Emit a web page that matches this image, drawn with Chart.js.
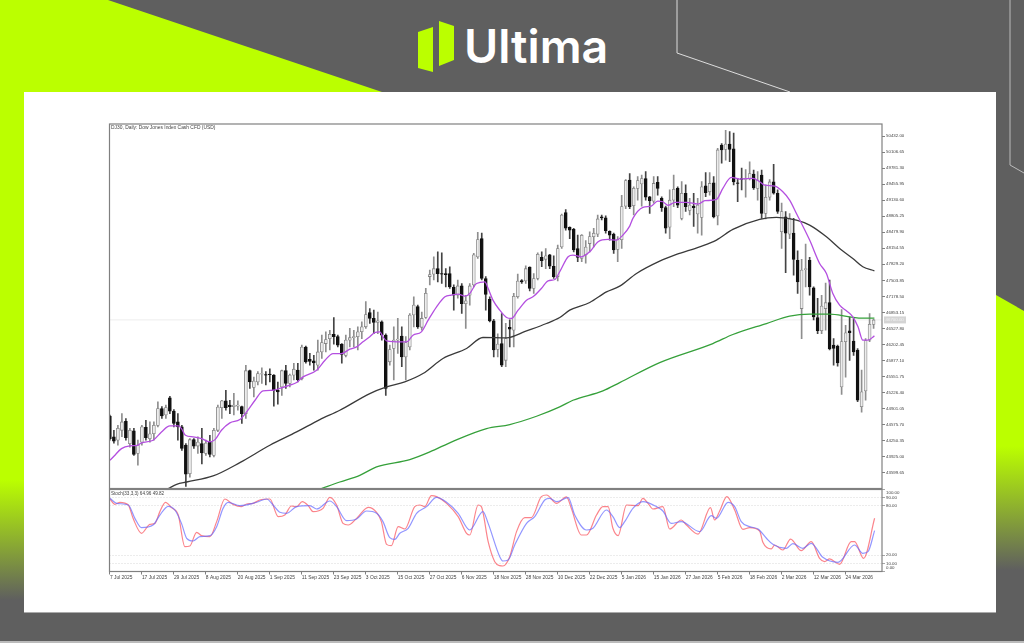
<!DOCTYPE html>
<html>
<head>
<meta charset="utf-8">
<title>DJ30 Daily</title>
<script src="https://cdn.jsdelivr.net/npm/chart.js@4"></script>
<style>
html,body{margin:0;padding:0;background:#5f5f5f;overflow:hidden}
#page{position:relative;width:1024px;height:643px;overflow:hidden;background:#5f5f5f}
#deco{position:absolute;left:0;top:0}
#card{position:absolute;left:24px;top:92px;width:972px;height:520px;background:#fff;border-bottom:1px solid #aaa}
canvas{position:absolute;left:0;top:0;filter:blur(.4px)}
#brand{position:absolute;left:464px;top:18px;font:600 46.5px Inter,"Open Sans",sans-serif;color:#fff}
.lbl{position:absolute;font:4.9px "Liberation Sans",sans-serif;color:#444;white-space:nowrap;filter:blur(.25px)}
</style>
</head>
<body>
<div id="page">
<svg id="deco" width="1024" height="643">
  <defs>
    <linearGradient id="leftFade" x1="0" y1="0" x2="0" y2="1">
      <stop offset="0" stop-color="#bbff00"/>
      <stop offset=".8" stop-color="#bbff00"/>
      <stop offset="1" stop-color="#5f5f5f"/>
    </linearGradient>
    <linearGradient id="rightFade" x1="0" y1="0" x2="0" y2="1">
      <stop offset="0" stop-color="#bbff00"/>
      <stop offset=".55" stop-color="#bbff00"/>
      <stop offset="1" stop-color="#5f5f5f"/>
    </linearGradient>
  </defs>
  <polygon points="0,0 108,0 382,92 24,92 24,600 0,600" fill="url(#leftFade)"/>
  <polygon points="996,295 1024,311 1024,570 996,570" fill="url(#rightFade)"/>
  <polyline points="677,0 677,53 790,92" fill="none" stroke="#ddd" stroke-width="1"/>
  <polyline points="1010,0 1010,165 1024,173" fill="none" stroke="#bbb" stroke-width="1"/>
  <rect x="0" y="641" width="1024" height="2" fill="#bbb"/>
  <polygon points="418,32 433,27 433,72 418,68" fill="#bbff00"/>
  <polygon points="439,21 454,26 454,60 439,66" fill="#bbff00"/>
</svg>
<div id="brand">Ultima</div>
<div id="card"></div>
<canvas id="precos" width="1024" height="643"></canvas>
<canvas id="stoch" width="1024" height="643"></canvas>
<div class="lbl" style="left:111px;top:125px">DJ30, Daily:  Dow Jones Index Cash CFD (USD)</div>
<div class="lbl" style="left:111px;top:491px;font-size:4.6px">Stoch(33,3,3) 64.96 49.82</div>
</div>
<script>
// Dados
const opens = [
44750,44330,44260,44460,44640,44190,44450,43990,44220,44520,
44290,44390,44560,44900,44770,45120,44850,44630,44530,44160,
43580,44270,44140,44190,43990,44220,43950,44460,44920,45060,
44970,44940,44950,44940,44800,45670,45330,45440,45600,45590,
45600,45580,45270,45340,45670,45410,45580,45680,45510,46150,
45900,45870,45780,46050,46220,46320,46410,46360,46210,45980,
46290,46340,46360,46460,46560,46850,46730,46650,46660,46390,
45850,46120,46290,46370,45950,46150,46800,46970,46550,46750,
47580,47630,47740,47640,47640,47640,47360,47200,47390,47030,
47200,47410,47980,48350,47540,47120,46680,46100,46220,45880,
46550,46490,47170,47500,47490,47770,47340,47540,47970,47930,
48020,47790,47580,48180,48880,48580,48540,48150,47950,48020,
48250,48390,48440,48790,48770,48500,48440,48130,48330,49010,
49540,49020,49370,49460,49570,49200,49110,49490,49170,48980,
48580,49130,49370,48760,49270,48920,49010,48850,48780,49420,
49300,49480,48810,50250,50160,50270,50170,49480,49570,49550,
49570,49660,49370,49640,48860,49190,49500,49270,48490,48790,
48440,48460,47910,46930,47720,47910,47350,46750,46480,46930,
47050,46190,46170,45340,46260,46480,46270,46090,44940,45260,
46290,46610];
const closes = [
44290,44240,44500,44630,44310,44460,43970,44160,44530,44310,
44390,44560,44900,44750,44920,44850,44600,44530,44090,43570,
44270,44140,44220,44000,44200,43970,44460,44930,45060,44920,
44940,44970,44970,44800,45670,45440,45460,45610,45610,45580,
45590,45270,45240,45670,45410,45580,45700,45480,46150,45850,
45860,45830,46050,46240,46300,46410,46360,46190,46000,46290,
46340,46360,46460,46560,46810,46730,46650,46680,46390,45310,
46100,46290,46310,45950,46240,46800,47000,46560,46730,47240,
47620,47740,47640,47630,47620,47370,47200,47390,47030,47090,
47390,48020,48330,47540,47220,46680,46090,46210,45780,46320,
46510,47180,47490,47470,47740,47340,47540,48030,47900,48000,
47790,47580,48150,48830,48560,48520,48120,47970,48420,48180,
48390,48460,48750,48770,48510,48420,48120,48330,49000,49530,
49000,49370,49530,49570,49190,49120,49470,49370,48980,48560,
49130,49350,49030,49270,49000,49030,48980,49030,49400,49280,
49470,48790,50150,50150,50270,50160,49500,49470,49550,49570,
49670,49380,49540,48860,49190,49500,49270,48900,48900,48460,
48760,47930,47470,47710,47740,47370,46760,46480,46980,47050,
46110,46120,45830,46260,46440,46440,46050,45070,45240,46280,
46610,46700];
const highs = [
44770,44460,44560,44800,44700,44500,44500,44260,44560,44660,
44630,44630,45040,44940,44970,45150,44880,44800,44560,44190,
44290,44290,44330,44500,44260,44360,44500,44970,45070,45270,
45070,45210,45060,44950,45780,45680,45540,45650,45730,45650,
45710,45590,45440,45680,45780,45600,45820,45820,46190,46170,
46020,45980,46290,46390,46460,46490,46750,46390,46220,46390,
46530,46490,46560,46660,47070,46930,46900,46860,46680,46420,
46190,46560,46730,46560,46360,46830,47170,47000,46860,47340,
47710,47980,48080,48060,47740,47780,47410,47510,47440,47200,
47440,48050,48480,48460,47580,47170,46710,46420,46830,46630,
46700,47240,47630,47520,47800,47780,47640,48060,48080,48150,
48030,48000,48220,48850,48940,48590,48560,48420,48430,48310,
48490,48560,48830,48830,48810,48510,48460,48390,49230,49550,
49670,49400,49610,49640,49710,49210,49610,49610,49200,49010,
49340,49640,49400,49510,49440,49170,49270,49170,49510,49690,
49690,49610,50180,50280,50550,50520,50490,49570,49780,49750,
49910,49740,49710,49740,49440,49550,49860,49340,49070,48900,
48860,48760,48100,47930,48240,47970,47370,47140,47200,47450,
47510,46320,46190,46910,46590,46760,46730,46120,45680,46320,
46830,46710];
const lows = [
44260,44200,44160,44330,44260,44120,43950,43750,44160,44260,
44220,44260,44530,44700,44700,44800,44530,44260,44050,43320,
43510,44090,43990,43780,43950,43920,43920,44430,44700,44870,
44800,44770,44870,44600,44700,45310,45140,45380,45410,45380,
45440,44950,44990,45170,45310,45340,45480,45440,45480,45820,
45780,45680,45680,45920,46050,46090,46210,46150,45820,45950,
46150,46150,46090,46320,46530,46630,46420,46420,46290,45170,
45780,45480,46020,45750,45480,46090,46560,46530,46490,46730,
47410,47510,47470,47440,47370,47340,46900,47140,46830,46530,
47000,47370,47950,47510,46900,46660,45950,45950,45750,45750,
46150,46150,47140,47440,47440,47290,47240,47510,47780,47740,
47740,47540,47490,48150,48520,48350,48080,47880,47880,47850,
48080,48180,48390,48730,48460,48320,48050,47880,48150,48960,
48960,48830,49130,49010,49130,48860,49070,49230,48900,48460,
48350,49000,48980,48730,48900,48830,48600,48460,48420,49200,
49230,48770,48630,49880,49940,49910,49440,49100,49340,49190,
49540,49350,49130,48760,48750,49130,49250,48860,48150,47660,
48350,47610,47240,46320,47370,47200,46700,46420,46420,46490,
46090,45780,45760,45190,45540,45880,45980,45040,44830,45070,
46260,46530];

// Médias móveis: barra e valor de cada vértice lido
const mmRapidaIdx = [0,1,2.9,5,6.9,7.9,10.8,12.9,15,17.1,17.9,18.9,20.8,22.9,25,26.3,27.9,30,32.5,34.2,36.3,38.3,40.8,42.9,45,46.7,48.3,51.7,53.8,55.8,57.9,60,61.7,63.3,65,66.2,67.5,68.3,69.2,72.9,74.2,75.8,77.9,79.6,81.7,83.8,85.4,87.1,88.8,90,91.7,93.8,94.6,95.8,97.5,99.2,100.4,102.1,104.2,105.8,107.9,109.6,111.3,112.5,114.6,115.8,117.9,120,122.1,124.6,126.7,128.3,130,130.8,133.3,135.4,137,138.3,139.6,141.3,144.2,147.1,148.8,151.7,153.3,155.4,157.5,160.8,162.5,163.8,166.3,168.3,170,171.7,175,177.5,179.2,180.8,182.5,184.2,185.8,187.1,188.3,189.6,191.2];
const mmRapida = [43851,43933,44089,44143,44156,44204,44258,44427,44549,44549,44495,44359,44326,44292,44224,44271,44461,44610,44678,44833,45070,45260,45273,45321,45375,45429,45544,45680,45883,46018,46018,46106,46153,46255,46357,46444,46458,46357,46275,46255,46255,46390,46458,46695,46966,47169,47203,47223,47182,47237,47440,47474,47338,47101,46898,46749,46729,46898,47101,47169,47338,47494,47521,47677,47981,48015,47981,48083,48286,48333,48320,48421,48604,48760,48983,49010,49112,49098,49024,49085,49085,49051,49119,49146,49369,49593,49559,49572,49505,49437,49416,49301,49132,48861,48320,47846,47643,47237,47000,46885,46763,46560,46289,46289,46377];
const mmMediaIdx = [14.6,16.7,19.2,25.8,32.5,40,46.7,52.5,57.5,65,69.2,73.75,78.3,83.3,89.2,93.3,99.2,104.2,109.2,112.5,115,120,124.2,127.5,131.7,137.5,141.7,147.5,151.7,155.8,162.5,166.7,171.7,175,179.2,182.5,185.8,188.3,191.2];
const mmMedia = [43276,43364,43411,43533,43804,44156,44427,44678,44867,45206,45341,45443,45612,45917,46120,46343,46336,46478,46627,46749,46898,47054,47270,47385,47643,47893,48029,48184,48320,48536,48740,48780,48726,48624,48387,48151,47947,47778,47697];
const mmLentaIdx = [52.9,57.5,62.5,66.7,75,80,85.8,94.2,100,106.7,112.5,115.8,123.3,127.5,137.5,150.8,155.8,164.2,170,175,180,185,188.3,191.2];
const mmLenta = [43276,43411,43547,43716,43865,44021,44237,44495,44576,44745,44935,45070,45260,45429,45835,46221,46404,46627,46776,46817,46817,46763,46736,46736];

// Estocástico
const stochMainIdx = [0,1.25,2.5,4.6,5.8,7.9,10,11.25,12.5,13.9,15.4,17.1,18.75,20,21.7,22.9,25,26.7,28.75,30.8,32.9,34.2,35.8,37.5,40,42.1,43.75,45.4,46.7,48.1,49.6,50.8,53.3,55,56.7,58.3,59.6,61.7,64.6,66.7,67.9,69.2,70.4,72.1,73.75,76.25,77.5,78.75,80.4,81.7,84.2,87.1,89.2,90,92.1,92.9,94.6,96.25,97.5,98.3,100,101.7,103.75,105.4,107.9,109.2,111.7,114.2,115.4,117.9,119.2,121.7,123.3,124.6,125.8,127.1,129.2,132.1,133.3,134.6,135.8,138.3,140,142.9,144.2,147.1,150.2,151.25,152.5,154.3,156.25,158.3,160,162.5,163.3,165.4,166.25,168.3,170.25,172.9,175.4,177.5,178.75,180,182.5,185.4,186.25,188.5,191.25];
const stochMain = [88.4,81.9,84.4,81.1,64.8,46.6,57.5,58.7,73,84.4,77.9,68.9,30.3,31.1,47.8,43.7,42.5,60.8,88.4,81.9,79.1,82.3,83.1,87.2,88.4,66.9,68.9,79.9,79.1,85.2,80.3,73,77,90.5,81.1,58.7,56.7,64.8,78.3,72.2,60.8,33.1,31.5,54.7,51.8,79.1,81.1,79.1,92.5,91.3,83.1,66.9,46.6,44.5,81.1,79.1,36.4,12,7.1,6.7,18.1,48.6,65.7,65.7,91.3,93.3,83.1,90.9,77,44.5,44.5,68.9,79.1,79.1,52.7,43.7,81.1,80.3,89.2,83.1,76.2,79.1,51.8,62.8,56.7,45.7,77.9,62.8,73.8,91.3,75,51.4,53.5,49.4,35.6,27.5,32.3,26.2,39.6,25.4,36.4,16.1,12,15.3,8.8,36.4,36.4,16.1,64.96];
const stochSinalIdx = [0,1.7,4.6,6.25,7.9,10.8,12.5,14.6,16.25,17.9,19.2,20.8,22.5,25,26.7,28.3,29.6,32.5,36.7,39.2,40.8,42.5,44.2,46.7,50,51.7,55,56.7,59.2,61.7,64.2,66.7,68.3,70,71.25,72.5,74.6,76.7,79.2,81.7,84.2,87.1,90,93.3,94.6,97.5,98.3,99.6,101.25,104.2,106.25,108.75,110,111.7,114.6,116.25,119.2,120.8,124.2,125.8,127.5,128.75,130.8,133.3,136.7,138.3,140.4,142.9,147.5,150.4,151.7,154.6,156.25,157.9,160,162.1,164.2,165.8,169.2,170.8,173.3,175.4,178.3,182.1,186.25,188.3,189.6,191.25];
const stochSinal = [89.2,83.1,81.1,64.8,53.5,56.7,68.9,79.5,75,58.7,40.5,37.2,42.5,43.7,54.7,77,84.4,80.3,84.4,88.4,81.1,72.2,71,79.1,80.3,76.2,86,79.1,62,64,73.8,71,60.8,41.3,39.2,46.6,52.7,71,79.1,90.5,84.4,71,50.6,73,58.7,18.1,12.8,14,32.3,58.7,66.9,87.2,89.2,85.2,90,68.9,50.6,52.7,75,66.9,53.5,60.8,77,85.2,79.1,73.8,58.7,60.8,48.6,68.1,64.8,84.4,79.1,60.8,54.7,51.8,40.5,33.1,28.3,34,28.3,34.4,17.3,11.2,32.3,22.2,24.2,49.82];

// Eixos
const precoTicks = [50432.00,50106.65,49781.30,49455.95,49130.60,48805.25,48479.90,48154.55,47829.20,47503.85,47178.50,46853.15,46527.80,46202.45,45877.10,45551.75,45226.40,44901.05,44575.70,44250.35,43925.00,43599.65];
const stochTicks = [100,90,80,20,10,0];
const dataIdx = [0,8,16,24,32,40,48,56,64,72,80,88,96,104,112,120,128,136,144,152,160,168,176,184];
const dataLabels = ['7 Jul 2025','17 Jul 2025','29 Jul 2025','8 Aug 2025','20 Aug 2025','1 Sep 2025','11 Sep 2025','23 Sep 2025','3 Oct 2025','15 Oct 2025','27 Oct 2025','6 Nov 2025','18 Nov 2025','28 Nov 2025','10 Dec 2025','22 Dec 2025','5 Jan 2026','15 Jan 2026','27 Jan 2026','5 Feb 2026','18 Feb 2026','2 Mar 2026','12 Mar 2026','24 Mar 2026'];

const fonte = {family:'"Liberation Sans", sans-serif', size:4.4};
const fonteX = {family:'"Liberation Sans", sans-serif', size:4.9};
const corTexto = '#444';
const corMoldura = '#808080';
const xMin = -0.1, xMax = 193.1;
const ultimoPreco = closes[closes.length - 1];

const pontos = (idx, val) => idx.map((v, i) => ({x: v, y: val[i]}));
const alta = i => closes[i] >= opens[i];
const linha = (idx, val, cor, larg) => ({type: 'line', data: pontos(idx, val), borderColor: cor, borderWidth: larg, pointRadius: 0, cubicInterpolationMode: 'monotone', order: 1});

const moldura = {
    id: 'moldura',
    afterDraw(chart) {
        const a = chart.chartArea, c = chart.ctx;
        c.save();
        c.strokeStyle = corMoldura;
        c.lineWidth = 1.2;
        c.strokeRect(a.left, a.top, a.right - a.left, a.bottom - a.top);
        c.restore();
    }
};
// Etiqueta cinza do último preço, ao lado da escala
const etiquetaPreco = {
    id: 'etiquetaPreco',
    afterDraw(chart) {
        const c = chart.ctx, y = chart.scales.y.getPixelForValue(ultimoPreco);
        c.save();
        c.fillStyle = '#d4d4d4';
        c.fillRect(884, y - 3.5, 22, 7);
        c.fillStyle = '#f2f2f2';
        c.font = '4.4px "Liberation Sans", sans-serif';
        c.textBaseline = 'middle';
        c.fillText(ultimoPreco.toFixed(2), 885.5, y);
        c.restore();
    }
};
// A escala do estocástico puxa os rótulos 100 e 0 para dentro do painel
const rotulosStoch = {
    id: 'rotulosStoch',
    afterDraw(chart) {
        const c = chart.ctx, s = chart.scales.y, a = chart.chartArea;
        c.save();
        c.fillStyle = corTexto;
        c.font = '4.4px "Liberation Sans", sans-serif';
        c.textBaseline = 'middle';
        stochTicks.forEach(v => {
            const y = Math.min(Math.max(s.getPixelForValue(v), a.top + 3.5), a.bottom - 3.5);
            c.fillText(v.toFixed(2), a.right + 4, y);
        });
        c.restore();
    }
};

window.onload = function() {
    new Chart(document.getElementById('precos'), {
        data: {
            datasets: [
                linha(mmRapidaIdx, mmRapida, '#b44fe0', 1.3),
                linha(mmMediaIdx, mmMedia, '#3a3a3a', 1.3),
                linha(mmLentaIdx, mmLenta, '#35a03a', 1.3),
                {type: 'line', data: [{x: xMin, y: ultimoPreco}, {x: xMax, y: ultimoPreco}], borderColor: '#ccc', borderWidth: .7, borderDash: [1, 1], pointRadius: 0, order: 5},
                {type: 'bar', grouped: false, barThickness: 3, borderSkipped: false, borderWidth: .8, order: 2,
                    data: opens.map((o, i) => ({x: i, y: [o, closes[i]]})),
                    backgroundColor: ctx => alta(ctx.dataIndex) ? '#ececec' : '#111',
                    borderColor: ctx => alta(ctx.dataIndex) ? '#858585' : '#111'},
                {type: 'bar', grouped: false, barThickness: 1, order: 3,
                    data: lows.map((l, i) => ({x: i, y: [l, highs[i]]})),
                    backgroundColor: ctx => alta(ctx.dataIndex) ? '#8e8e8e' : '#444'}
            ]
        },
        options: {
            responsive: false,
            animation: false,
            layout: {padding: {left: 109.5, top: 124, right: 100, bottom: 154.5}},
            plugins: {legend: {display: false}, tooltip: {enabled: false}, title: {display: false}},
            scales: {
                x: {type: 'linear', display: false, min: xMin, max: xMax, offset: false},
                y: {
                    type: 'linear', position: 'right', min: 43279, max: 50676,
                    afterBuildTicks: s => { s.ticks = precoTicks.map(v => ({value: v})); },
                    afterFit: s => { s.width = 42; },
                    grid: {drawOnChartArea: false, tickLength: 3, tickColor: corMoldura},
                    border: {display: false},
                    ticks: {autoSkip: false, font: fonte, color: corTexto, padding: 1, callback: v => v.toFixed(2)}
                }
            }
        },
        plugins: [moldura, etiquetaPreco]
    });

    new Chart(document.getElementById('stoch'), {
        data: {
            datasets: [
                linha(stochSinalIdx, stochSinal, 'rgba(100,105,255,.7)', 1.2),
                linha(stochMainIdx, stochMain, 'rgba(250,80,90,.7)', 1.2)
            ]
        },
        options: {
            responsive: false,
            animation: false,
            layout: {padding: {left: 109.5, top: 489.5, right: 100, bottom: 59.5}},
            plugins: {legend: {display: false}, tooltip: {enabled: false}, title: {display: false}},
            scales: {
                x: {
                    type: 'linear', position: 'bottom', min: xMin, max: xMax,
                    afterBuildTicks: s => { s.ticks = dataIdx.map(v => ({value: v})); },
                    afterFit: s => { s.height = 12; },
                    grid: {drawOnChartArea: false, tickLength: 3, tickColor: corMoldura},
                    border: {display: false},
                    ticks: {autoSkip: false, maxRotation: 0, align: 'start', font: fonteX, color: corTexto, padding: 0,
                        callback: v => dataLabels[dataIdx.indexOf(v)]}
                },
                y: {
                    type: 'linear', position: 'right', min: 0, max: 100,
                    afterBuildTicks: s => { s.ticks = stochTicks.map(v => ({value: v})); },
                    afterFit: s => { s.width = 42; },
                    grid: {color: c => (c.tick && (c.tick.value === 100 || c.tick.value === 0)) ? 'transparent' : '#c8c8c8',
                        lineWidth: .7, tickLength: 3, tickColor: corMoldura},
                    border: {display: false, dash: [1, 2]},
                    ticks: {display: false}
                }
            }
        },
        plugins: [moldura, rotulosStoch]
    });
};
</script>
</body>
</html>
